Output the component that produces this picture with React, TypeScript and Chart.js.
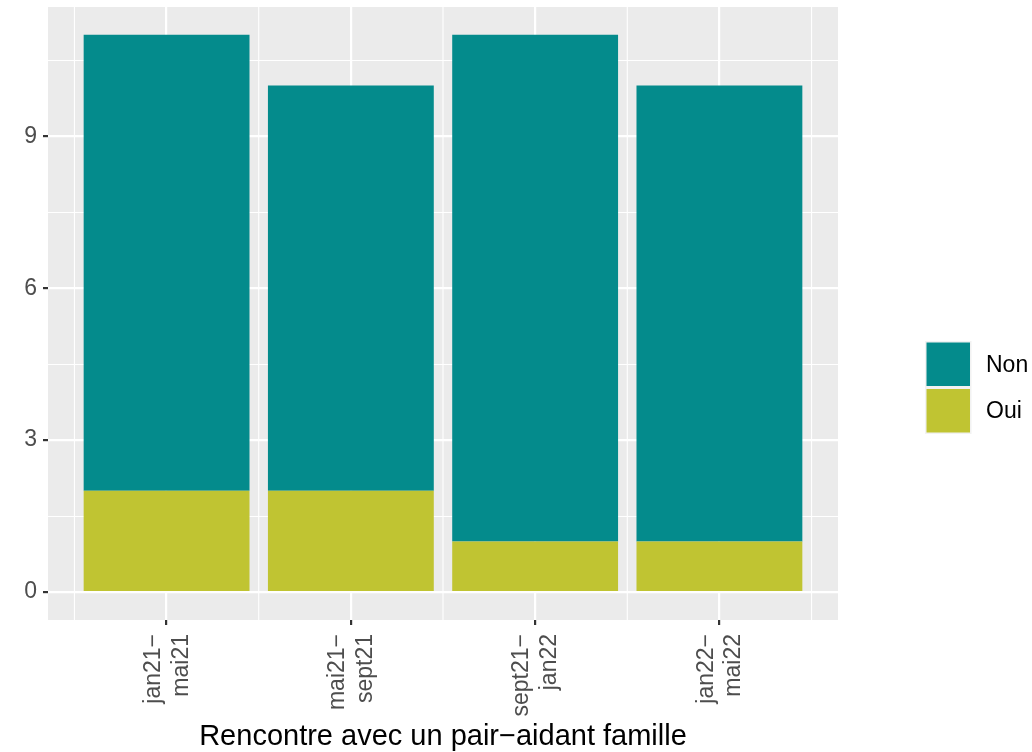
import React, { useEffect, useRef } from 'react';
import { Chart, registerables } from 'chart.js';

Chart.register(...registerables);

// ---- data ----
const categories: string[][] = [
  ['jan21−', 'mai21'],
  ['mai21−', 'sept21'],
  ['sept21−', 'jan22'],
  ['jan22−', 'mai22'],
];
const categoryPositions = [1, 2, 3, 4];
const ouiValues = [2, 2, 1, 1];
const nonValues = [9, 8, 10, 9];
const yTickValues = [0, 3, 6, 9];
const legendLabels = ['Non', 'Oui'];
const xTitle = 'Rencontre avec un pair−aidant famille';

const COLOR_NON = '#048B8C';
const COLOR_OUI = '#C0C432';
const FONT = '"Liberation Sans", Arial, Helvetica, sans-serif';

const xMajor = categoryPositions;
const xMinor = [0.5, 1.5, 2.5, 3.5, 4.5];
const yMajor = yTickValues;
const yMinor = [1.5, 4.5, 7.5, 10.5];

const panelBg = {
  id: 'panelBg',
  beforeDraw(chart: any) {
    const { ctx, chartArea } = chart;
    ctx.save();
    ctx.fillStyle = '#EBEBEB';
    ctx.fillRect(chartArea.left, chartArea.top, chartArea.right - chartArea.left, chartArea.bottom - chartArea.top);
    ctx.restore();
  },
};

// minor vertical grid lines (between categories)
const minorXGrid = {
  id: 'minorXGrid',
  beforeDatasetsDraw(chart: any) {
    const { ctx, chartArea, scales } = chart;
    ctx.save();
    ctx.strokeStyle = '#FFFFFF';
    ctx.lineWidth = 1.1;
    xMinor.forEach((v) => {
      const px = scales.x.getPixelForValue(v);
      ctx.beginPath();
      ctx.moveTo(px, chartArea.top);
      ctx.lineTo(px, chartArea.bottom);
      ctx.stroke();
    });
    ctx.restore();
  },
};

const ggLegend = {
  id: 'ggLegend',
  afterDraw(chart: any) {
    const { ctx } = chart;
    const x0 = 925;
    const y0 = 341;
    const key = 46.5;
    const colors = [COLOR_NON, COLOR_OUI];
    ctx.save();
    ctx.fillStyle = '#F2F2F2';
    ctx.fillRect(x0, y0, key, key * legendLabels.length);
    legendLabels.forEach((lab, i) => {
      ctx.fillStyle = colors[i];
      ctx.fillRect(x0 + 1.5, y0 + i * key + 1.5, key - 3, key - 3);
      ctx.fillStyle = '#000000';
      ctx.font = `23px ${FONT}`;
      ctx.textAlign = 'left';
      ctx.textBaseline = 'middle';
      ctx.fillText(lab, 986, y0 + i * key + key / 2 + 1);
    });
    ctx.restore();
  },
};

export default function App() {
  const ref = useRef<HTMLCanvasElement | null>(null);

  useEffect(() => {
    if (!ref.current) return;
    const chart = new Chart(ref.current, {
      type: 'bar',
      data: {
        datasets: [
          {
            label: 'Oui',
            data: categoryPositions.map((x, i) => ({ x, y: ouiValues[i] })),
            backgroundColor: COLOR_OUI,
            borderWidth: 0,
            barPercentage: 0.9,
            categoryPercentage: 1,
          },
          {
            label: 'Non',
            data: categoryPositions.map((x, i) => ({ x, y: nonValues[i] })),
            backgroundColor: COLOR_NON,
            borderWidth: 0,
            barPercentage: 0.9,
            categoryPercentage: 1,
          },
        ],
      },
      options: {
        animation: false,
        responsive: false,
        maintainAspectRatio: false,
        layout: { padding: { left: 0, top: 7, right: 194, bottom: 0 } },
        plugins: {
          legend: { display: false },
          tooltip: { enabled: false },
        },
        scales: {
          x: {
            type: 'linear',
            stacked: true,
            offset: false,
            min: 0.3565,
            max: 4.6435,
            afterBuildTicks: (scale: any) => {
              scale.ticks = xMajor.map((v) => ({ value: v }));
            },
            afterFit: (scale: any) => {
              scale.height = 132;
              scale.paddingLeft = 0;
              scale.paddingRight = 0;
            },
            border: { display: false },
            grid: {
              offset: false,
              color: '#FFFFFF',
              lineWidth: 2.2,
              tickColor: '#333333',
              tickWidth: 2.2,
              tickLength: 5,
              drawTicks: true,
            },
            ticks: {
              autoSkip: false,
              minRotation: 90,
              maxRotation: 90,
              padding: 9,
              labelOffset: -13,
              color: '#4D4D4D',
              font: { family: FONT, size: 23, lineHeight: 1.2 },
              callback: (v: any) => {
                const idx = categoryPositions.indexOf(Number(v));
                return idx >= 0 ? categories[idx] : '';
              },
            },
            title: {
              display: true,
              text: xTitle,
              color: '#000000',
              font: { family: FONT, size: 29, lineHeight: 1.2 },
              padding: { top: 0, bottom: -2 },
            },
          },
          y: {
            type: 'linear',
            stacked: true,
            min: -0.55,
            max: 11.55,
            afterBuildTicks: (scale: any) => {
              scale.ticks = [...yMajor, ...yMinor].sort((a, b) => a - b).map((v) => ({ value: v }));
            },
            afterFit: (scale: any) => {
              scale.width = 48;
              scale.paddingTop = 0;
              scale.paddingBottom = 0;
            },
            border: { display: false },
            grid: {
              color: '#FFFFFF',
              lineWidth: (c: any) => (yMajor.includes(c.tick?.value) ? 2.2 : 1.1),
              tickColor: (c: any) => (yMajor.includes(c.tick?.value) ? '#333333' : 'rgba(0,0,0,0)'),
              tickWidth: 2.2,
              tickLength: 5,
            },
            ticks: {
              autoSkip: false,
              padding: 6,
              color: '#4D4D4D',
              font: { family: FONT, size: 23 },
              callback: (v: any) => (yMajor.includes(Number(v)) ? String(v) : ''),
            },
          },
        },
      },
      plugins: [panelBg, minorXGrid, ggLegend],
    } as any);
    return () => chart.destroy();
  }, []);

  return (
    <div style={{ position: 'absolute', left: 0, top: 0, width: 1032, height: 752, background: '#FFFFFF' }}>
      <canvas ref={ref} width={1032} height={752} style={{ width: 1032, height: 752, display: 'block' }} />
    </div>
  );
}
